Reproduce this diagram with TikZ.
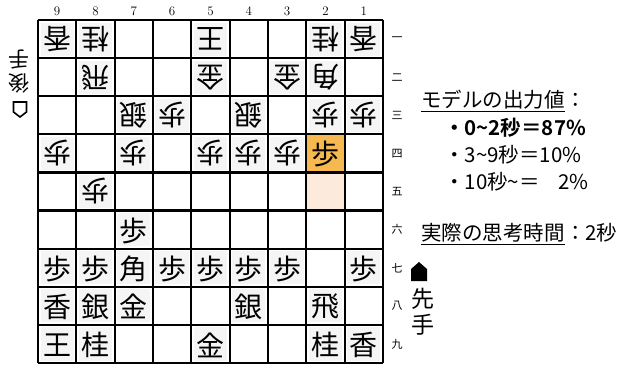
\documentclass[tikz,border=0pt]{standalone}
\usepackage{fontspec}
\newfontfamily\jp{Noto Sans CJK JP}
\newfontfamily\jpb{Noto Sans CJK JP}[BoldFont={* Bold}]
\begin{document}
\begin{tikzpicture}[x=1pt,y=-1pt,
  gridline/.style={line width=2.2pt,black},
  pc/.style={font=\jp\fontsize{28}{28}\selectfont,inner sep=0pt},
  gpc/.style={pc,rotate=180},
  collab/.style={font=\fontsize{13}{13}\selectfont,inner sep=0pt},
  rowlab/.style={font=\jp\fontsize{11}{11}\selectfont,inner sep=0pt},
  info/.style={font=\jp\fontsize{20.5}{22}\selectfont,inner sep=0pt,anchor=base west},
  sidelab/.style={font=\jp\fontsize{23}{23}\selectfont,inner sep=0pt}
]
\useasboundingbox (0,0) rectangle (633,367);
\def\bx{38}\def\by{20}\def\cw{38.333}\def\ch{38.111}
% highlighted cells
\fill[fill={rgb,255:red,245;green,185;blue,79}] ({\bx+7*\cw},{\by+3*\ch}) rectangle ({\bx+8*\cw},{\by+4*\ch});
\fill[fill={rgb,255:red,252;green,235;blue,221}] ({\bx+7*\cw},{\by+4*\ch}) rectangle ({\bx+8*\cw},{\by+5*\ch});
% pieces: col/row/char/owner (g=gote, s=sente, h=highlighted sente)
\foreach \c/\r/\p/\o in {
 9/1/香/g,8/1/桂/g,5/1/王/g,2/1/桂/g,1/1/香/g,
 8/2/飛/g,5/2/金/g,3/2/金/g,2/2/角/g,
 7/3/銀/g,6/3/歩/g,4/3/銀/g,2/3/歩/g,1/3/歩/g,
 9/4/歩/g,7/4/歩/g,5/4/歩/g,4/4/歩/g,3/4/歩/g,2/4/歩/h,
 8/5/歩/g,
 7/6/歩/s,
 9/7/歩/s,8/7/歩/s,7/7/角/s,6/7/歩/s,5/7/歩/s,4/7/歩/s,3/7/歩/s,1/7/歩/s,
 9/8/香/s,8/8/銀/s,7/8/金/s,4/8/銀/s,2/8/飛/s,
 9/9/王/s,8/9/桂/s,5/9/金/s,2/9/桂/s,1/9/香/s}{
  \pgfmathsetmacro\cx{\bx+(9-\c+0.5)*\cw}
  \pgfmathsetmacro\cy{\by+(\r-0.5)*\ch}
  \if\o h\else
    \fill[black!4] ({\cx-\cw/2+2.5},{\cy-\ch/2+2.5}) rectangle ({\cx+\cw/2-2.5},{\cy+\ch/2-2.5});
  \fi
  \if\o g
    \node[gpc] (p\c\r) at (\cx,\cy) {\p};
  \else
    \node[pc] (p\c\r) at (\cx,{\cy+1}) {\p};
  \fi
}
% grid
\foreach \i in {0,...,9}{
  \draw[gridline] ({\bx+\i*\cw},\by) -- ({\bx+\i*\cw},{\by+9*\ch});
  \draw[gridline] (\bx,{\by+\i*\ch}) -- ({\bx+9*\cw},{\by+\i*\ch});
}
% column labels
\foreach \c in {1,...,9}{
  \node[collab] (col\c) at ({\bx+(9-\c+0.5)*\cw},11) {\c};
}
% row labels
\foreach \r/\k in {1/一,2/二,3/三,4/四,5/五,6/六,7/七,8/八,9/九}{
  \node[rowlab] (row\r) at (397,{\by+(\r-0.5)*\ch}) {\k};
}
% gote
\node[sidelab,rotate=180,font=\jp\fontsize{21}{21}\selectfont] (gte) at (19,59) {手};
\node[sidelab,rotate=180,font=\jp\fontsize{21}{21}\selectfont] (gto) at (19,83) {後};
\draw[line width=1.6pt,line join=miter] (13.5,102) -- (26.5,102) -- (26.5,112) -- (20,117) -- (13.5,112) -- cycle;
% sente
\fill (411,281) -- (411,269) -- (419,262) -- (427,269) -- (427,281) -- cycle;
\node[sidelab] (sen) at (423,299) {先};
\node[sidelab] (ste) at (423,325) {手};
% info text
\node[info] (t1) at (421,107) {モデルの出力値};
\node[info,anchor=base west] (t1c) at (t1.base east) {：};
\draw[line width=0.8pt] ([yshift=-4pt]t1.base west) -- ([yshift=-4pt]t1.base east);
\node[info,font=\jpb\fontsize{20.5}{22}\selectfont\bfseries] (t2) at (444,135) {・0\char`~2秒＝87\%};
\node[info] (t3) at (444,162) {・3\char`~9秒＝10\%};
\node[info] (t4) at (444,189) {・10秒\char`~＝\hspace{0.9em}2\%};
\node[info] (t5) at (421,240) {実際の思考時間};
\node[info,anchor=base west] (t5c) at (t5.base east) {：2秒};
\draw[line width=0.8pt] ([yshift=-4pt]t5.base west) -- ([yshift=-4pt]t5.base east);
\end{tikzpicture}
\end{document}
